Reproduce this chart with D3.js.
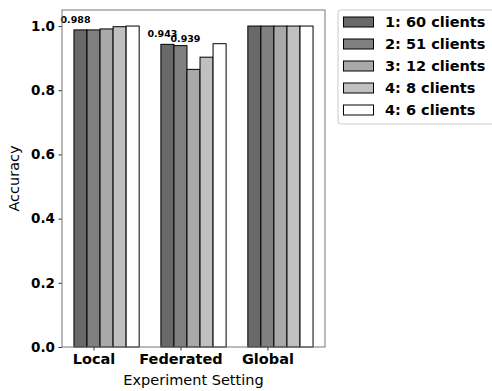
<!DOCTYPE html>
<html><head><meta charset="utf-8">
<script src="https://cdn.jsdelivr.net/npm/d3@7"></script>
<style>
body{margin:0;background:#fff;}
svg{display:block;font-family:"DejaVu Sans",sans-serif;}
</style></head>
<body><svg id="chart" width="492" height="391"></svg>
<script>
const categories = ["Local", "Federated", "Global"];
const seriesNames = ["1: 60 clients", "2: 51 clients", "3: 12 clients", "4: 8 clients", "4: 6 clients"];
const seriesColors = ["#696969", "#808080", "#a9a9a9", "#c0c0c0", "#ffffff"];
const s1 = [0.988, 0.943, 1.0];
const s2 = [0.988, 0.939, 1.0];
const s3 = [0.991, 0.865, 1.0];
const s4 = [0.998, 0.903, 1.0];
const s5 = [1.0, 0.945, 1.0];
const seriesValues = [s1, s2, s3, s4, s5];
const yTicks = [0.0, 0.2, 0.4, 0.6, 0.8, 1.0];
const annotations = [
  {series: 0, cat: 0, text: "0.988", dx: -5, dy: -7},
  {series: 0, cat: 1, text: "0.943", dx: -5, dy: -7.5},
  {series: 1, cat: 1, text: "0.939", dx: 5, dy: -3.5}
];

const svg = d3.select("#chart");
const L = 62, R = 325, T = 10, B = 347;
const w = 0.15;
const x = d3.scaleLinear().domain([-0.3625, 2.6625]).range([L, R]);
const y = d3.scaleLinear().domain([0, 1.05]).range([B, T]);

const g = svg.append("g");
seriesValues.forEach((vals, j) => {
  g.selectAll(null).data(vals).enter().append("rect")
    .attr("x", (d, i) => x(i + (j - 1) * w - w / 2))
    .attr("width", x(w) - x(0))
    .attr("y", d => y(d))
    .attr("height", d => y(0) - y(d))
    .attr("fill", seriesColors[j])
    .attr("stroke", "#000")
    .attr("stroke-width", 1);
});

annotations.forEach(a => {
  const v = seriesValues[a.series][a.cat];
  const cx = x(a.cat + (a.series - 1) * w);
  g.append("text").attr("x", cx + a.dx).attr("y", y(v) + a.dy)
    .attr("text-anchor", "middle").attr("font-size", 9.5).attr("font-weight", "bold")
    .text(a.text);
});

const yAxis = d3.axisLeft(y).tickValues(yTicks).tickFormat(d3.format(".1f")).tickSize(3.5).tickPadding(3.5);
const ya = svg.append("g").attr("transform", `translate(${L},0)`).call(yAxis);
const xAxis = d3.axisBottom(x).tickValues([0, 1, 2]).tickFormat(i => categories[i]).tickSize(3.5).tickPadding(3.5);
const xa = svg.append("g").attr("transform", `translate(0,${B})`).call(xAxis);
[ya, xa].forEach(a => {
  a.select(".domain").remove();
  a.selectAll(".tick line").attr("stroke", "#000").attr("stroke-width", 0.8);
  a.selectAll(".tick text").attr("font-family", "DejaVu Sans").attr("font-weight", "bold").attr("fill", "#000");
});
ya.selectAll(".tick text").attr("font-size", 13.5);
xa.selectAll(".tick text").attr("font-size", 14.5);

svg.append("rect").attr("x", L).attr("y", T).attr("width", R - L).attr("height", B - T)
  .attr("fill", "none").attr("stroke", "#777").attr("stroke-width", 1);

svg.append("text").attr("x", (L + R) / 2).attr("y", 385).attr("text-anchor", "middle")
  .attr("font-size", 14.5).text("Experiment Setting");
svg.append("text").attr("transform", `translate(19,${(T + B) / 2}) rotate(-90)`)
  .attr("text-anchor", "middle").attr("font-size", 14.5).text("Accuracy");

const lg = svg.append("g");
lg.append("rect").attr("x", 338).attr("y", 10).attr("width", 170).attr("height", 114)
  .attr("rx", 3).attr("fill", "#fff").attr("stroke", "#ccc").attr("stroke-width", 1);
seriesNames.forEach((n, j) => {
  const cy = 22 + j * 22;
  lg.append("rect").attr("x", 343.5).attr("y", cy - 5).attr("width", 30).attr("height", 10)
    .attr("fill", seriesColors[j]).attr("stroke", "#000").attr("stroke-width", 1);
  lg.append("text").attr("x", 385).attr("y", cy + 5).attr("font-size", 14.5)
    .attr("font-weight", "bold").text(n);
});
</script></body></html>
